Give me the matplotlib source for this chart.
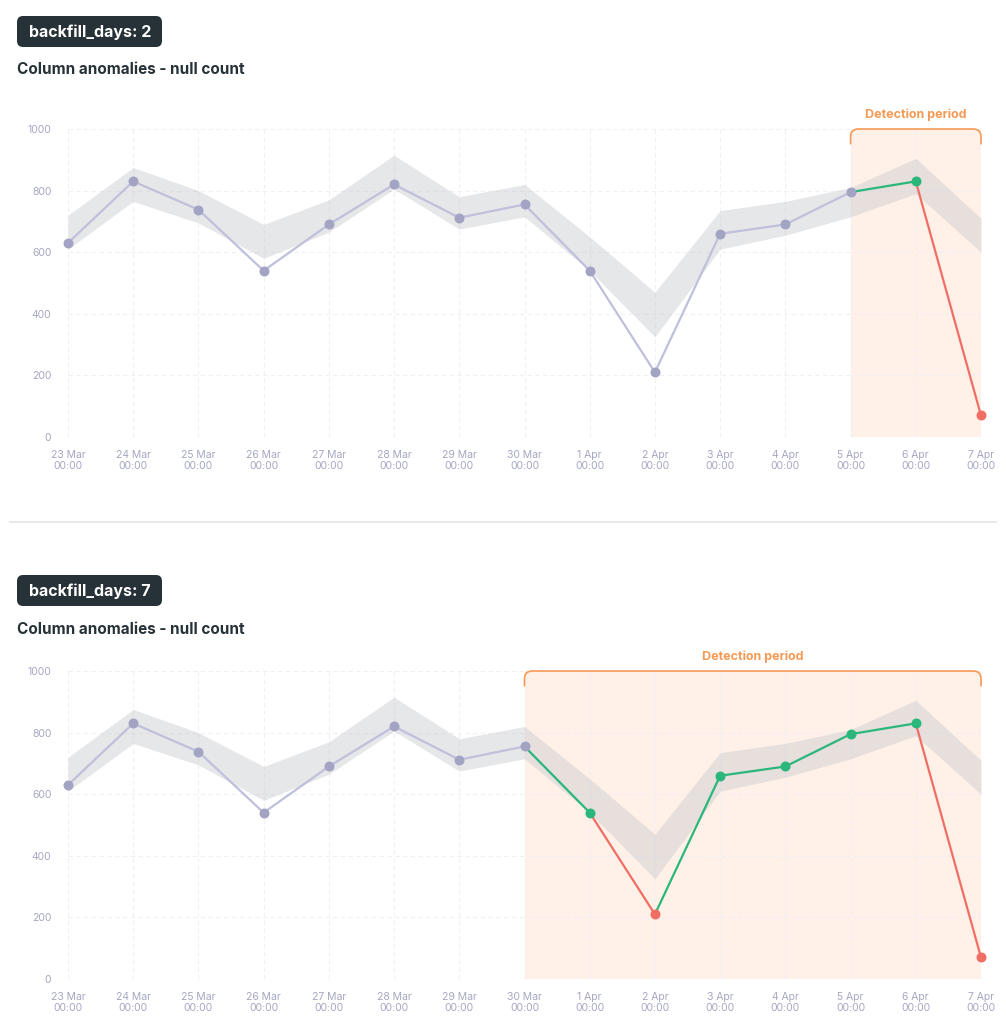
import matplotlib
matplotlib.use("Agg")
import matplotlib.pyplot as plt
from matplotlib.path import Path
from matplotlib.patches import PathPatch, FancyBboxPatch

plt.rcParams["font.family"] = "Inter"

days = ["23 Mar", "24 Mar", "25 Mar", "26 Mar", "27 Mar", "28 Mar", "29 Mar", "30 Mar",
        "1 Apr", "2 Apr", "3 Apr", "4 Apr", "5 Apr", "6 Apr", "7 Apr"]
values = [630, 830, 738, 540, 690, 820, 712, 755, 540, 210, 660, 690, 795, 830, 70]
band_hi = [720, 875, 800, 690, 770, 915, 780, 820, 650, 470, 735, 765, 810, 905, 710]
band_lo = [610, 765, 695, 580, 665, 805, 675, 715, 540, 325, 610, 655, 715, 790, 600]
y_ticks = [0, 200, 400, 600, 800, 1000]

panels = [("backfill_days: 2", 12), ("backfill_days: 7", 7)]  # label, detection start index

GREY_LINE = "#bfc0db"
GREY_DOT = "#a3a4c4"
GREEN = "#2bb77c"
RED = "#f06e64"
ORANGE = "#f59a55"
SHADE = "#fff1e8"
TICK = "#a6a7c2"

W, H = 1006, 1029
fig = plt.figure(figsize=(W / 100, H / 100), dpi=100)


def px_axes(left, top, right, bottom):
    return fig.add_axes([left / W, 1 - bottom / H, (right - left) / W, (bottom - top) / H])


def is_anom(i):
    return values[i] > band_hi[i] or values[i] < band_lo[i]


head_offsets = [0, 559]
axes_offsets = [0, 542]
for (label, start), hoff, off in zip(panels, head_offsets, axes_offsets):
    # badge and title
    fig.patches.append(FancyBboxPatch(((17) / W, 1 - (47 + hoff) / H), 145 / W, 31 / H,
                                      boxstyle="round,pad=0,rounding_size=0.006",
                                      transform=fig.transFigure, fc="#263238", ec="none"))
    fig.text(29 / W, 1 - (32 + hoff) / H, label, color="white", fontsize=11.5,
             fontweight="bold", va="center", ha="left")
    fig.text(17 / W, 1 - (70 + hoff) / H, "Column anomalies - null count", color="#263238",
             fontsize=11, fontweight="bold", va="center", ha="left")

    ax = px_axes(68, 129 + off, 981, 437 + off)
    x = list(range(len(days)))
    ax.set_xlim(0, len(days) - 1)
    ax.set_ylim(0, 1000)
    for s in ax.spines.values():
        s.set_visible(False)
    ax.set_xticks(x)
    ax.set_xticklabels([d + "\n00:00" for d in days])
    ax.set_yticks(y_ticks)
    ax.tick_params(length=0, colors=TICK, labelsize=7.5)
    ax.tick_params(axis="x", pad=9)
    ax.tick_params(axis="y", pad=12)
    ax.grid(True, color="#efeff6", linestyle=(0, (4, 3)), linewidth=0.8)
    ax.set_axisbelow(True)

    ax.axvspan(start, len(days) - 1, ymin=0, ymax=1, color=SHADE, zorder=0.5)
    ax.fill_between(x, band_lo, band_hi, color="#c9cace", alpha=0.45, lw=0, zorder=1)

    # normal part
    ax.plot(x[:start + 1], values[:start + 1], color=GREY_LINE, lw=1.6, zorder=2)
    ax.scatter(x[:start + 1], values[:start + 1], s=38, color=GREY_DOT, zorder=4,
               clip_on=False)
    # detection part
    for i in range(start, len(days) - 1):
        c = RED if is_anom(i + 1) else GREEN
        ax.plot([i, i + 1], [values[i], values[i + 1]], color=c, lw=1.6, zorder=3)
        ax.scatter([i + 1], [values[i + 1]], s=38, color=c, zorder=4, clip_on=False)

    # detection bracket
    x0, x1 = start, len(days) - 1
    r = 0.12
    verts = [(x0, 950), (x0, 1000 - 25), (x0, 1000), (x0 + r, 1000), (x1 - r, 1000),
             (x1, 1000), (x1, 1000 - 25), (x1, 950)]
    codes = [Path.MOVETO, Path.LINETO, Path.CURVE3, Path.CURVE3, Path.LINETO,
             Path.CURVE3, Path.CURVE3, Path.LINETO]
    ax.add_patch(PathPatch(Path(verts, codes), fc="none", ec=ORANGE, lw=1.2,
                           clip_on=False, zorder=5))
    ax.text((x0 + x1) / 2, 1045, "Detection period", color=ORANGE, fontsize=9,
            fontweight="bold", ha="center", va="center", clip_on=False)

fig.add_artist(plt.Line2D([10 / W, 996 / W], [1 - 522 / H, 1 - 522 / H],
                          color="#e8e9ec", lw=1.5, transform=fig.transFigure))

fig.savefig("out.png", dpi=100, facecolor="white")
